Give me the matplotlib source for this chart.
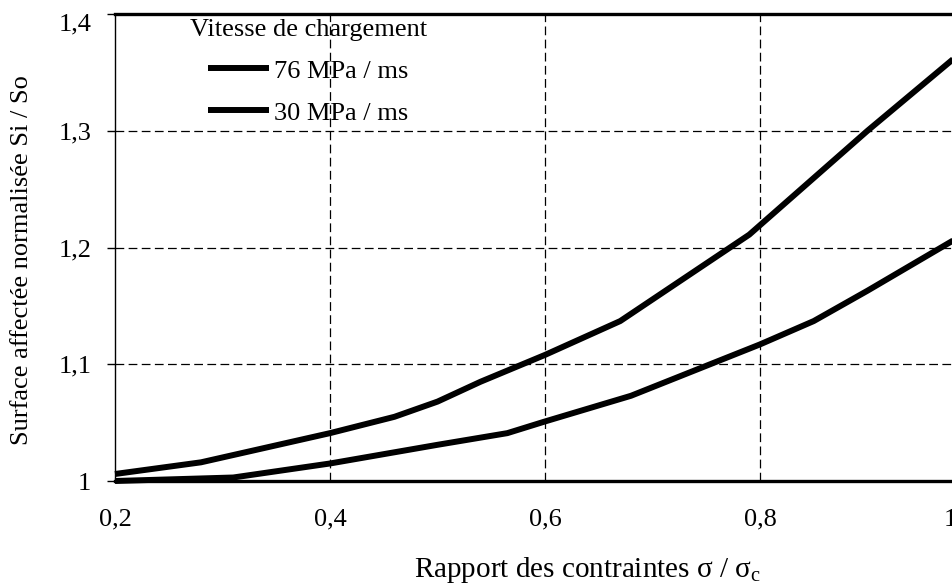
import numpy as np
import matplotlib.pyplot as plt
import matplotlib.transforms as mtransforms

# Donnees
x76 = [0.2, 0.28, 0.4, 0.46, 0.5, 0.54, 0.6, 0.67, 0.79, 0.9, 1.0]
y76 = [1.006, 1.016, 1.041, 1.055, 1.068, 1.085, 1.108, 1.137, 1.211, 1.30, 1.377]
x30 = [0.2, 0.31, 0.4, 0.5, 0.565, 0.6, 0.68, 0.8, 0.85, 0.9, 1.0]
y30 = [1.000, 1.003, 1.015, 1.031, 1.041, 1.051, 1.073, 1.117, 1.137, 1.163, 1.217]
noms = ['76 MPa / ms', '30 MPa / ms']
xticks = [0.2, 0.4, 0.6, 0.8, 1.0]
xtick_labels = ['0,2', '0,4', '0,6', '0,8', '1']
yticks = [1.0, 1.1, 1.2, 1.3, 1.4]
ytick_labels = ['1', '1,1', '1,2', '1,3', '1,4']

plt.rcParams['font.family'] = ['Liberation Serif', 'DejaVu Serif']
plt.rcParams['mathtext.fontset'] = 'custom'
plt.rcParams['mathtext.rm'] = 'Liberation Serif'
plt.rcParams['mathtext.it'] = 'Liberation Serif'

fig = plt.figure(figsize=(9.53, 5.85), dpi=100)
ax = fig.add_axes([115 / 953, 1 - 481 / 585, 860 / 953, 467 / 585])

ax.plot(x76, y76, color='black', lw=4.3, solid_capstyle='butt', label=noms[0], clip_on=False)
ax.plot(x30, y30, color='black', lw=4.3, solid_capstyle='butt', label=noms[1], clip_on=False)

ax.set_xlim(0.2, 1.0)
ax.set_ylim(1.0, 1.4)
ax.set_xticks(xticks)
ax.set_xticklabels(xtick_labels)
ax.set_yticks(yticks)
ax.set_yticklabels(ytick_labels)

# grille en tirets
for xv in xticks[1:-1]:
    ax.axvline(xv, color='black', lw=0.9, ls=(0, (7, 3.5)), zorder=1)
for yv in yticks[1:-1]:
    ax.axhline(yv, color='black', lw=0.9, ls=(0, (7, 3.5)), zorder=1)

ax.spines['right'].set_visible(False)
ax.spines['top'].set_linewidth(2.4)
ax.spines['bottom'].set_linewidth(2.4)
ax.spines['left'].set_linewidth(1.0)

ax.tick_params(axis='x', length=0, pad=20, labelsize=19)
ax.tick_params(axis='y', length=6, width=1.0, direction='out', pad=11, labelsize=19)

# le dernier label "1" est decale vers la gauche comme sur l'original
lab = ax.get_xticklabels()[-1]
lab.set_transform(lab.get_transform() + mtransforms.ScaledTranslation(-25 / 100, 0, fig.dpi_scale_trans))
# "1,4" un peu plus bas
lab = ax.get_yticklabels()[-1]
lab.set_transform(lab.get_transform() + mtransforms.ScaledTranslation(0, -8 / 100, fig.dpi_scale_trans))

ax.set_xlabel('Rapport des contraintes σ / σ$_{\\rm c}$', fontsize=21)
ax.xaxis.set_label_coords(0.549, -0.158)
ax.set_ylabel('Surface affectée normalisée Si / So', fontsize=19)
ax.yaxis.set_label_coords(-0.095, 0.473)

leg = ax.legend(title='Vitesse de chargement', frameon=False, fontsize=19,
                title_fontsize=19, loc='upper left', bbox_to_anchor=(0.087, 0.99),
                handlelength=2.3, handletextpad=0.2, labelspacing=0.7,
                borderaxespad=0, borderpad=0)
leg._legend_box.align = 'center'
for h in leg.get_lines():
    h.set_linewidth(4.3)

fig.savefig('out.png', dpi=100)
